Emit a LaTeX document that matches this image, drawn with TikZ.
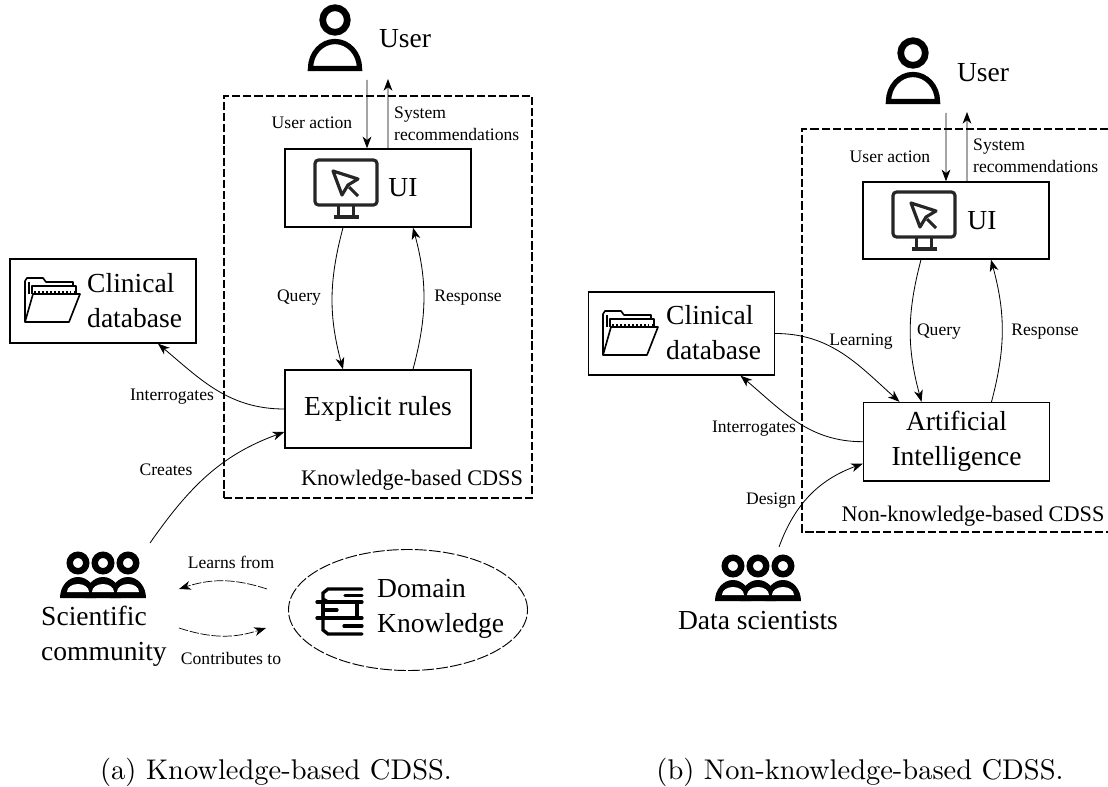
\documentclass[tikz,border=0pt]{standalone}
\usepackage{fontspec}
\usetikzlibrary{arrows.meta,shapes.geometric}
\newfontfamily\timesfont{Liberation Serif}
\newfontface\captionface{lmroman10-regular.otf}
\newcommand{\bigfont}{\timesfont\fontsize{23.5}{30}\selectfont}
\newcommand{\midfont}{\timesfont\fontsize{19}{23}\selectfont}
\newcommand{\smallfont}{\timesfont\fontsize{15}{18.5}\selectfont}
\newcommand{\capfont}{\captionface\fontsize{24.3}{28}\selectfont}
\newcommand{\usericon}[2]{\begin{scope}[shift={(#1,-#2)}]
\draw [line width=5.7pt] (0,0) circle (12.3);
\draw [line width=4.5pt] (-24.5,-48.5) arc (180:0:24.5 and 27) -- cycle;
\end{scope}}
\newcommand{\monitoricon}[2]{\begin{scope}[shift={(#1,-#2)},black!85,line width=2.7pt]
\draw [rounded corners=3pt] (0,0) rectangle (62,-45);
\draw [line join=round] (18,-11) -- (43,-19) -- (33,-25) -- (27,-35) -- cycle;
\draw (34,-27) -- (43,-36);
\draw (23.5,-45) -- (23.5,-56);
\draw (38.5,-45) -- (38.5,-56);
\draw (18.5,-57) -- (43.5,-57);
\end{scope}}
\newcommand{\foldericon}[2]{\begin{scope}[shift={(#1,-#2)},line width=1.4pt,line join=round]
\draw (0,-44) -- (0,-3) -- (2,0) -- (18,0) -- (21,-4) -- (48,-4) -- (48,-8);
\draw (4,-16) -- (4,-4);
\draw (7,-16) -- (7,-8) -- (51,-8) -- (51,-16);
\draw [dotted] (9,-14) -- (49,-14);
\draw (0,-44) -- (8,-16) -- (55,-16) -- (44,-44) -- cycle;
\end{scope}}
\newcommand{\booksicon}[2]{\begin{scope}[shift={(#1,-#2)},line width=2.8pt,line cap=round]
\draw (45,-2) -- (11,-2) -- (6,-6) -- (6,-12) -- (11,-15);
\draw (0,-15) -- (45,-15);
\draw (28,-8.5) -- (45,-8.5);
\draw (40,-15) -- (40,-31);
\draw (6,-15) -- (6,-31);
\draw (6,-23) -- (20,-23);
\draw (0,-31) -- (45,-31);
\draw (6,-31) -- (6,-43) -- (11,-47) -- (45,-47);
\draw (27,-39) -- (45,-39);
\end{scope}}
\newcommand{\peopleicon}[2]{\begin{scope}[shift={(#1,-#2)}]
\foreach \px in {-25,0,25} {
\draw [line width=5.5pt] (\px,0) circle (8.25);
\fill [black] (\px-18,-35) arc (180:0:18 and 21) -- cycle;
}
\foreach \px in {-25,0,25} {
\fill [white] (\px-11,-29) arc (180:0:11 and 8) -- cycle;
}
\end{scope}}
\begin{document}
\begin{tikzpicture}[x=0.03cm,y=0.03cm]
\tikzstyle{every node}+=[inner sep=0pt]
\tikzstyle{box}=[draw,black,line width=1.2pt,minimum width=5.58cm]
\tikzstyle{area}=[draw,black,line width=1pt,dash pattern=on 7pt off 2.5pt]
\tikzstyle{link}=[draw,black,line width=0.7pt,-{Stealth[length=10pt,width=7.5pt,inset=3pt]}]
\tikzstyle{dashlink}=[link,line width=0.6pt,dash pattern=on 8pt off 1.5pt]
\tikzstyle{bigtext}=[font=\bigfont,align=left]
\tikzstyle{midtext}=[font=\midfont]
\tikzstyle{smalltext}=[font=\smallfont,align=left]
\useasboundingbox (0,0) rectangle (1108,-787);
\node [area,minimum width=9.24cm,minimum height=12.06cm] (kbarea) at (378,-297) {};
\draw [area] (1108,-129) -- (802,-129) -- (802,-532) -- (1108,-532);
\node [box,minimum height=2.34cm] (uiA) at (378,-188) {};
\node [box,minimum height=2.34cm,font=\bigfont] (rulesA) at (378,-409) {Explicit rules};
\node [box,minimum height=2.52cm] (clinA) at (103,-301) {};
\node [box,minimum height=2.31cm] (uiB) at (956,-220.5) {};
\node [box,minimum height=2.35cm,font=\bigfont,align=center] (aiB) at (956.5,-441.7) {Artificial\\Intelligence};
\node [box,minimum height=2.49cm] (clinB) at (681.5,-333.5) {};
\usericon{335}{20}
\usericon{913}{53}
\monitoricon{315}{160}
\monitoricon{893}{192}
\foldericon{25}{278}
\foldericon{603}{311}
\booksicon{317}{587}
\peopleicon{103}{563}
\peopleicon{758}{566}
\node [bigtext] (userA) at (405,-39) {User};
\node [bigtext] (userB) at (983,-73) {User};
\node [bigtext] (uilabelA) at (403,-188) {UI};
\node [bigtext] (uilabelB) at (982,-221) {UI};
\node [bigtext,anchor=west] (clinlabelA) at (87,-301) {Clinical\\database};
\node [bigtext,anchor=west] (clinlabelB) at (666,-332.5) {Clinical\\database};
\node [bigtext,anchor=west] (scilabel) at (41,-636) {Scientific\\community};
\node [bigtext,anchor=west] (domainlabel) at (377,-609) {Domain\\Knowledge};
\node [bigtext] (datalabel) at (758,-621) {Data scientists};
\node [midtext] (kblabel) at (412,-480) {Knowledge-based CDSS};
\node [midtext] (nkblabel) at (973,-516) {Non-knowledge-based CDSS};
\node [draw,black,line width=0.8pt,dash pattern=on 10pt off 2pt,ellipse,minimum width=7.17cm,minimum height=3.63cm] (domainA) at (408,-610) {};
\node [smalltext] (actionA) at (312,-123) {User action};
\node [smalltext] (actionB) at (890,-157) {User action};
\node [smalltext,anchor=west] (recoA) at (394,-123.5) {System\\recommendations};
\node [smalltext,anchor=west] (recoB) at (973,-156) {System\\recommendations};
\node [smalltext] (queryA) at (299,-298) {Query};
\node [smalltext] (respA) at (468,-298) {Response};
\node [smalltext] (queryB) at (939,-332) {Query};
\node [smalltext] (respB) at (1045,-332) {Response};
\node [smalltext] (interA) at (172,-397) {Interrogates};
\node [smalltext] (interB) at (754,-429) {Interrogates};
\node [smalltext] (createslabel) at (166,-470) {Creates};
\node [smalltext] (learninglabel) at (861,-342) {Learning};
\node [smalltext] (designlabel) at (771,-501) {Design};
\node [smalltext] (learnslabel) at (231,-562) {Learns from};
\node [smalltext] (contriblabel) at (231,-658) {Contributes to};
\node [font=\capfont,anchor=base] (capA) at (276,-779) {(a) Knowledge-based CDSS.};
\node [font=\capfont,anchor=base] (capB) at (860,-779) {(b) Non-knowledge-based CDSS.};
\coordinate (useroutA) at (367,-80);
\coordinate (userinA) at (388,-79);
\coordinate (useroutB) at (946,-113);
\coordinate (userinB) at (967,-112);
\coordinate (createsstart) at (150,-543);
\coordinate (designstart) at (779,-547);
\coordinate (learnsA) at (267,-589);
\coordinate (learnsB) at (179,-589);
\coordinate (contribA) at (179,-628);
\coordinate (contribB) at (266,-628);
\draw [link] (useroutA) -- ([xshift=-0.33cm]uiA.north);
\draw [link] ([xshift=0.3cm]uiA.north) -- (userinA);
\draw [link] (useroutB) -- ([xshift=-0.3cm]uiB.north);
\draw [link] ([xshift=0.33cm]uiB.north) -- (userinB);
\draw [link] ([xshift=-1.05cm]uiA.south) to [bend right=15] ([xshift=-1.05cm]rulesA.north);
\draw [link] ([xshift=1.05cm]rulesA.north) to [bend right=15] ([xshift=1.05cm]uiA.south);
\draw [link] ([xshift=-1.05cm]uiB.south) to [bend right=15] ([xshift=-1.05cm]aiB.north);
\draw [link] ([xshift=1.05cm]aiB.north) to [bend right=15] ([xshift=1.05cm]uiB.south);
\draw [link] (rulesA.west) to [out=180,in=-40] ([xshift=1.65cm]clinA.south);
\draw [link] (aiB.west) to [out=180,in=-40] ([xshift=1.77cm]clinB.south);
\draw [link] (clinB.east) to [out=0,in=138] ([xshift=-1.71cm]aiB.north);
\draw [link] (createsstart) to [out=55,in=200] ([yshift=-0.69cm]rulesA.west);
\draw [link] (designstart) to [out=70,in=200] ([yshift=-0.66cm]aiB.west);
\draw [dashlink] (learnsA) to [bend right=18] (learnsB);
\draw [dashlink] (contribA) to [bend right=18] (contribB);
\end{tikzpicture}
\end{document}
